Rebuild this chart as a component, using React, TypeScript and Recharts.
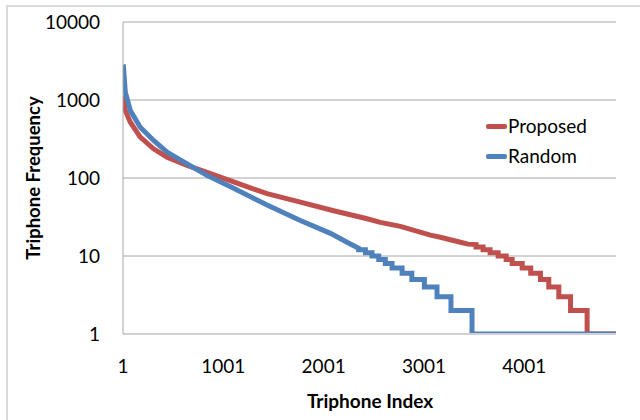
import React from 'react';
import { LineChart, Line, XAxis, YAxis, CartesianGrid, Legend } from 'recharts';

// [triphone index, frequency] breakpoints
const proposedPoints: [number, number][] = [
  [1, 1150], [24, 730], [74, 519], [173, 334], [306, 237], [440, 185], [640, 145],
  [838, 118], [1104, 89], [1437, 63], [1769, 49], [2101, 38], [2434, 30], [2566, 27],
  [2766, 24], [3065, 18.5], [3165, 17.4], [3364, 15], [3440, 14.2], [3520, 14],
  [3520, 13], [3590, 13], [3590, 12], [3660, 12], [3660, 11], [3740, 11], [3740, 10],
  [3820, 10], [3820, 9], [3880, 9], [3880, 8], [3980, 8], [3980, 7], [4065, 7], [4065, 6],
  [4162, 6], [4162, 5], [4245, 5], [4245, 4], [4345, 4], [4345, 3], [4462, 3], [4462, 2],
  [4627, 2], [4627, 1], [4915, 1],
];

const randomPoints: [number, number][] = [
  [1, 2800], [5, 2750], [24, 1260], [74, 733], [173, 448], [306, 303], [440, 215],
  [640, 152], [838, 108], [1104, 74], [1437, 45], [1769, 28.5], [2069, 19.5], [2234, 15],
  [2350, 12.6], [2350, 12], [2417, 12], [2417, 11], [2483, 11], [2483, 10], [2550, 10],
  [2550, 9], [2616, 9], [2616, 8], [2683, 8], [2683, 7], [2783, 7], [2783, 6], [2880, 6],
  [2880, 5], [3005, 5], [3005, 4], [3131, 4], [3131, 3], [3270, 3], [3270, 2], [3480, 2],
  [3480, 1], [4915, 1],
];

const xTicks = [1, 1001, 2001, 3001, 4001];
const yTicks = [1, 10, 100, 1000, 10000];
const seriesNames = ['Proposed', 'Random'];
const seriesColors = ['#C0504D', '#4F81BD'];

const proposedData = proposedPoints.map(([idx, freq]) => ({ idx, freq }));
const randomData = randomPoints.map(([idx, freq]) => ({ idx, freq }));

const FONT = 'Lato, "Open Sans", sans-serif';

const renderLegend = () => (
  <div style={{ fontFamily: FONT, fontSize: 19, color: '#000', lineHeight: '30px' }}>
    {seriesNames.map((n, i) => (
      <div key={n} style={{ display: 'flex', alignItems: 'center', height: 30 }}>
        <span style={{ display: 'inline-block', width: 21, height: 5, borderRadius: 2, background: seriesColors[i], marginRight: 1 }} />
        <span>{n}</span>
      </div>
    ))}
  </div>
);

export default function App() {
  return (
    <div style={{ position: 'fixed', left: 0, top: 0, width: 640, height: 420, overflow: 'hidden', background: '#fff' }}>
      <div style={{ position: 'absolute', left: 6, top: 5, width: 720, height: 500, border: '2px solid #d9d9d9' }} />
      <div style={{ position: 'absolute', left: 0, top: 0 }}>
        <LineChart width={640} height={420} margin={{ top: 22, right: 24, left: 0, bottom: 56 }}>
          <CartesianGrid vertical={false} stroke="#a6a6a6" />
          <XAxis
            dataKey="idx"
            type="number"
            domain={[1, 4915]}
            ticks={xTicks}
            allowDataOverflow
            height={30}
            tickLine={false}
            tickSize={0}
            tickMargin={26}
            stroke="#d0d0d0"
            strokeWidth={2}
            tick={{ fill: '#000', fontSize: 19, fontFamily: FONT }}
            label={{
              content: () => (
                <text x={370} y={400} textAnchor="middle" dominantBaseline="central" fontFamily={FONT} fontWeight="bold" fontSize={19} fill="#000">
                  Triphone Index
                </text>
              ),
            }}
          />
          <YAxis
            type="number"
            scale="log"
            domain={[1, 10000]}
            ticks={yTicks}
            allowDataOverflow
            width={123}
            tickLine={false}
            tickSize={0}
            tickMargin={23}
            stroke="#a6a6a6"
            tick={{ fill: '#000', fontSize: 19, fontFamily: FONT }}
            label={{
              content: () => (
                <text x={33} y={178} transform="rotate(-90 33 178)" textAnchor="middle" dominantBaseline="central" fontFamily={FONT} fontWeight="bold" fontSize={18.5} fill="#000">
                  Triphone Frequency
                </text>
              ),
            }}
          />
          <Legend
            layout="vertical"
            align="center"
            verticalAlign="middle"
            content={renderLegend}
            wrapperStyle={{ position: 'absolute', left: 486, top: 111, width: 130 }}
          />
          <Line data={proposedData} dataKey="freq" name={seriesNames[0]} type="linear" stroke={seriesColors[0]} strokeWidth={5} dot={false} isAnimationActive={false} />
          <Line data={randomData} dataKey="freq" name={seriesNames[1]} type="linear" stroke={seriesColors[1]} strokeWidth={5} dot={false} isAnimationActive={false} />
        </LineChart>
      </div>
    </div>
  );
}
